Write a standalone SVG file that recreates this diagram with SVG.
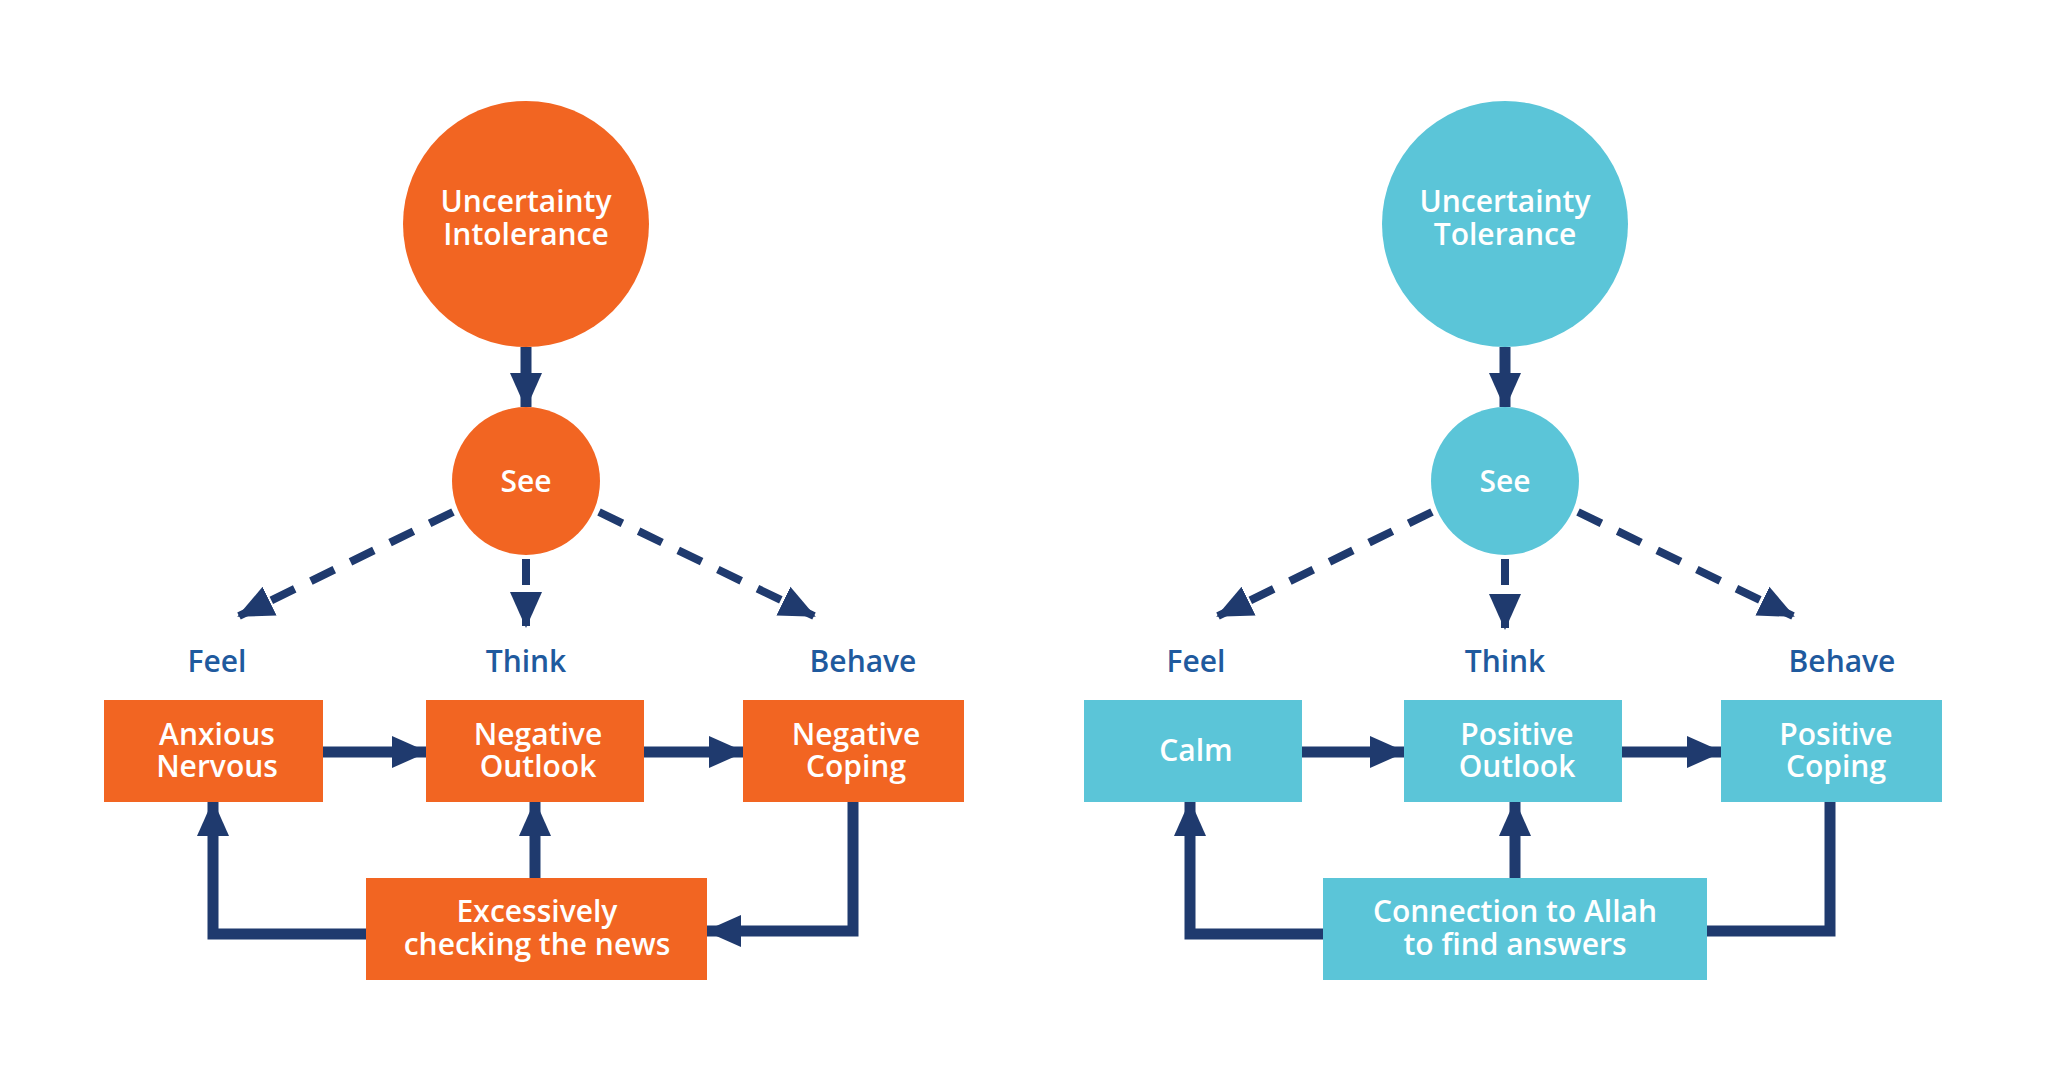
<svg xmlns="http://www.w3.org/2000/svg" width="2048" height="1092" viewBox="0 0 2048 1092">
<defs>
<style>
.o{fill:#F26522}.t{fill:#5BC5D8}
.w{fill:#fff;font-family:"Open Sans","Liberation Sans",sans-serif;font-weight:600;font-size:30px;text-anchor:middle}
.l{fill:#1F5A9E;font-family:"Open Sans","Liberation Sans",sans-serif;font-weight:600;font-size:30px;text-anchor:middle}
.c{fill:none;stroke:#1F3A6E;stroke-width:11}
.d{fill:none;stroke:#1F3A6E;stroke-width:8;stroke-dasharray:26 18}
</style>
<marker id="a" markerUnits="userSpaceOnUse" markerWidth="36" markerHeight="36" viewBox="0 0 36 36" refX="34" refY="18" orient="auto"><path d="M0,2 L36,18 L0,34 Z" fill="#1F3A6E"/></marker>
</defs>
<rect width="2048" height="1092" fill="#fff"/>
<g id="connectors">
<path class="c" d="M526,347 V407" marker-end="url(#a)"/>
<path class="d" d="M453,512 L239,616" marker-end="url(#a)"/>
<path class="d" d="M526,559 V626" marker-end="url(#a)"/>
<path class="d" d="M599,512 L814,616" marker-end="url(#a)"/>
<path class="c" d="M323,752 H426" marker-end="url(#a)"/>
<path class="c" d="M644,752 H743" marker-end="url(#a)"/>
<path class="c" d="M366,934 H213 V802" marker-end="url(#a)"/>
<path class="c" d="M535,878 V802" marker-end="url(#a)"/>
<path class="c" d="M853,802 V931 H707" marker-end="url(#a)"/>
<path class="c" d="M1505,347 V407" marker-end="url(#a)"/>
<path class="d" d="M1432,512 L1218,616" marker-end="url(#a)"/>
<path class="d" d="M1505,559 V628" marker-end="url(#a)"/>
<path class="d" d="M1578,512 L1793,616" marker-end="url(#a)"/>
<path class="c" d="M1302,752 H1404" marker-end="url(#a)"/>
<path class="c" d="M1622,752 H1721" marker-end="url(#a)"/>
<path class="c" d="M1323,934 H1190 V802" marker-end="url(#a)"/>
<path class="c" d="M1515,878 V802" marker-end="url(#a)"/>
<path class="c" d="M1830,802 V931 H1707"/>
</g>
<g id="ui"><circle class="o" cx="526" cy="224" r="123"/><text class="w" x="526" y="212">Uncertainty</text><text class="w" x="526" y="245">Intolerance</text></g>
<g id="see1"><circle class="o" cx="526" cy="481" r="74"/><text class="w" x="526" y="492">See</text></g>
<g id="lab1"><text class="l" x="217" y="672">Feel</text><text class="l" x="526" y="672">Think</text><text class="l" x="863" y="672">Behave</text></g>
<g id="anx"><rect class="o" x="104" y="700" width="219" height="102"/><text class="w" x="217" y="745">Anxious</text><text class="w" x="217" y="777">Nervous</text></g>
<g id="nego"><rect class="o" x="426" y="700" width="218" height="102"/><text class="w" x="538" y="745">Negative</text><text class="w" x="538" y="777">Outlook</text></g>
<g id="negc"><rect class="o" x="743" y="700" width="221" height="102"/><text class="w" x="856" y="745">Negative</text><text class="w" x="856" y="777">Coping</text></g>
<g id="exc"><rect class="o" x="366" y="878" width="341" height="102"/><text class="w" x="537" y="922">Excessively</text><text class="w" x="537" y="955">checking the news</text></g>
<g id="ut"><circle class="t" cx="1505" cy="224" r="123"/><text class="w" x="1505" y="212">Uncertainty</text><text class="w" x="1505" y="245">Tolerance</text></g>
<g id="see2"><circle class="t" cx="1505" cy="481" r="74"/><text class="w" x="1505" y="492">See</text></g>
<g id="lab2"><text class="l" x="1196" y="672">Feel</text><text class="l" x="1505" y="672">Think</text><text class="l" x="1842" y="672">Behave</text></g>
<g id="calm"><rect class="t" x="1084" y="700" width="218" height="102"/><text class="w" x="1196" y="761">Calm</text></g>
<g id="poso"><rect class="t" x="1404" y="700" width="218" height="102"/><text class="w" x="1517" y="745">Positive</text><text class="w" x="1517" y="777">Outlook</text></g>
<g id="posc"><rect class="t" x="1721" y="700" width="221" height="102"/><text class="w" x="1836" y="745">Positive</text><text class="w" x="1836" y="777">Coping</text></g>
<g id="conn"><rect class="t" x="1323" y="878" width="384" height="102"/><text class="w" x="1515" y="922">Connection to Allah</text><text class="w" x="1515" y="955">to find answers</text></g>
</svg>
